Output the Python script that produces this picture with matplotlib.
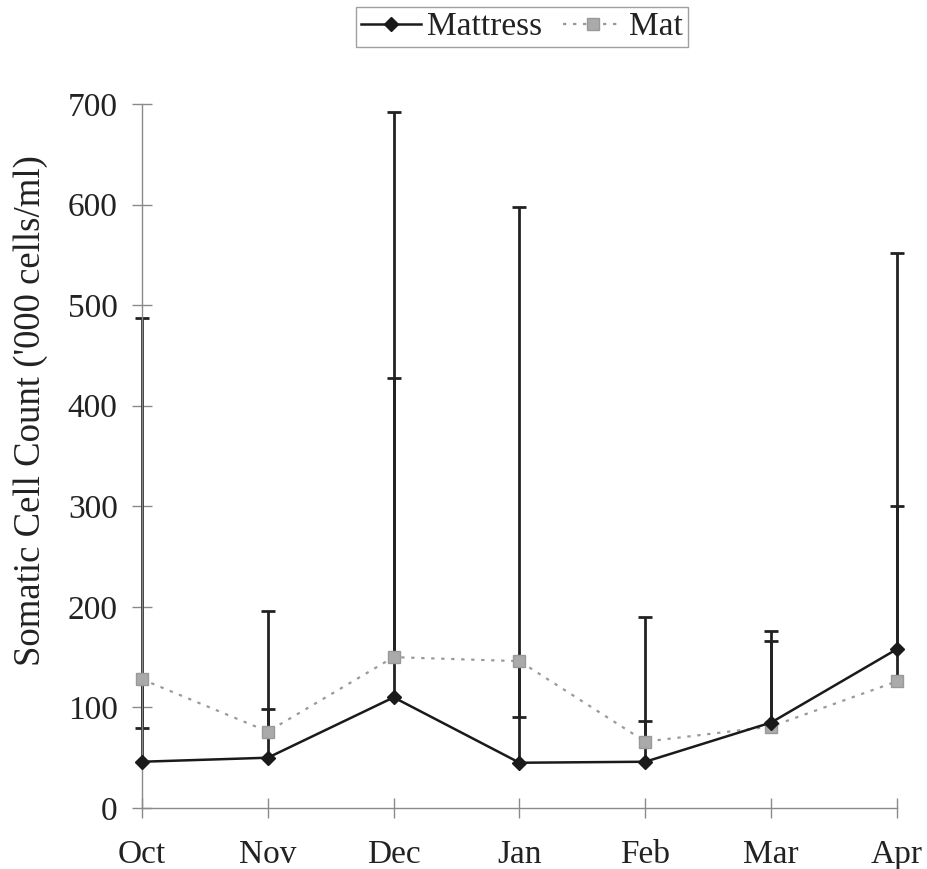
import numpy as np
import matplotlib
matplotlib.use("Agg")
import matplotlib.pyplot as plt

plt.rcParams['font.family'] = ['Liberation Serif', 'DejaVu Serif']

months = ["Oct", "Nov", "Dec", "Jan", "Feb", "Mar", "Apr"]
mattress = [46, 50, 110, 45, 46, 85, 158]
mat = [128, 76, 150, 146, 66, 81, 126]
# ends of the error bars
mattress_err_top = [487, 196, 692, 598, 190, 176, 552]
mat_err_cap = [80, 98, 428, 90, 87, 166, 300]
yticks = [0, 100, 200, 300, 400, 500, 600, 700]

fig = plt.figure(figsize=(9.28, 8.69), dpi=100)
ax = fig.add_axes([142/928, 1 - 808/869, (897 - 142)/928, (808 - 104)/869])

x = np.arange(len(months))
err_color = '#222222'

# error bars (stems + single caps at the far end)
ax.vlines(x, mattress, mattress_err_top, colors=err_color, linewidth=2.0,
          clip_on=False, zorder=2)
ax.vlines(x, mat, mat_err_cap, colors=err_color, linewidth=2.0,
          clip_on=False, zorder=2)
ax.plot(x, mattress_err_top, linestyle='none', marker='_', markersize=10,
        markeredgewidth=2.0, color=err_color, clip_on=False, zorder=2)
ax.plot(x, mat_err_cap, linestyle='none', marker='_', markersize=10,
        markeredgewidth=2.0, color=err_color, clip_on=False, zorder=2)

ax.plot(x, mat, linestyle=(0, (1.5, 3)), color='#9a9a9a', linewidth=1.6,
        marker='s', markersize=9, markerfacecolor='#aaaaaa', markeredgecolor='#999999',
        label='Mat', clip_on=False, zorder=3)
ax.plot(x, mattress, linestyle='-', color='#1a1a1a', linewidth=1.8,
        marker='D', markersize=7, markerfacecolor='#1a1a1a', markeredgecolor='#1a1a1a',
        label='Mattress', clip_on=False, zorder=4)

ax.set_xlim(0, 6)
ax.set_ylim(0, 700)
ax.set_xticks(x)
ax.set_xticklabels(months)
ax.set_yticks(yticks)
ax.set_yticklabels([str(v) for v in yticks])

for s in ['top', 'right']:
    ax.spines[s].set_visible(False)
for s in ['left', 'bottom']:
    ax.spines[s].set_color('#8a8a8a')
    ax.spines[s].set_linewidth(1.0)

ax.tick_params(axis='both', direction='inout', length=15, width=1.0, color='#8a8a8a',
               labelsize=24, labelcolor='#222222')
ax.tick_params(axis='x', pad=15)
ax.tick_params(axis='y', pad=10)

ax.set_ylabel("Somatic Cell Count ('000 cells/ml)", fontsize=26.5, color='#222222')
ax.yaxis.set_label_coords(-0.1245, 0.565)

handles, labels = ax.get_legend_handles_labels()
order = [1, 0]
leg = fig.legend([handles[i] for i in order], [labels[i] for i in order],
                 loc='center', bbox_to_anchor=(522/928, 1 - 27/869), ncol=2,
                 fontsize=24, frameon=True, fancybox=False, handlelength=1.8,
                 handletextpad=0.2, columnspacing=0.6, borderpad=0.15,
                 borderaxespad=0)
leg.get_frame().set_edgecolor('#888888')
leg.get_frame().set_linewidth(1.0)
for t in leg.get_texts():
    t.set_color('#222222')

fig.savefig('out.png', dpi=100, facecolor='white')
